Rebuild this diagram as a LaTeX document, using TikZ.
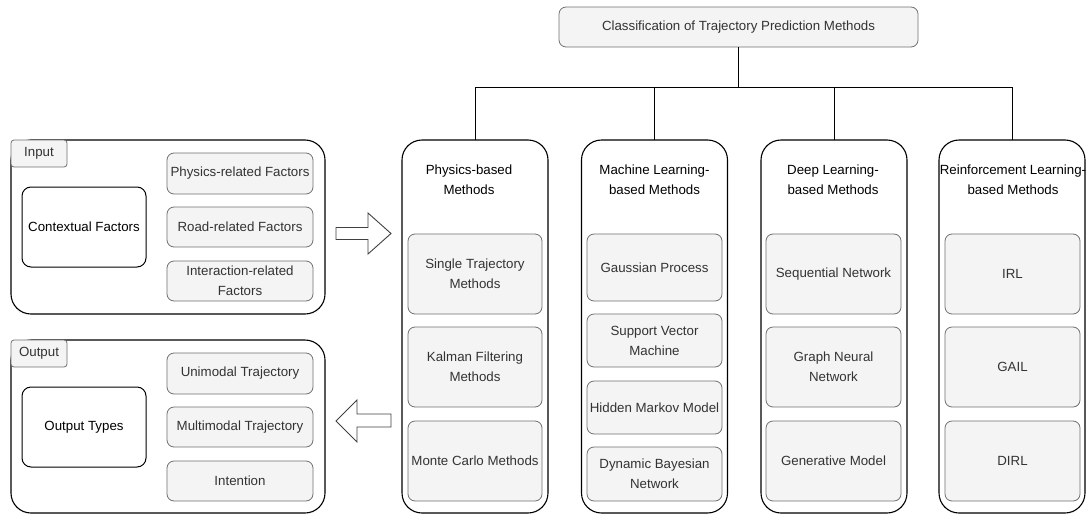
\documentclass[tikz,border=0pt]{standalone}
\usepackage{fontspec}
\setmainfont{Liberation Sans}
\definecolor{boxfill}{HTML}{F4F4F4}
\definecolor{boxline}{HTML}{707070}
\definecolor{boxtext}{HTML}{333333}
\tikzset{
  txt/.style={font=\fontsize{13.3}{20}\selectfont, align=center},
  panel/.style={draw=black, line width=1.1pt, rounded corners=20pt, fill=white,
    inner sep=0pt, outer sep=0pt},
  colbox/.style={panel},
  tabbox/.style={txt, draw=boxline, fill=boxfill, rounded corners=3pt, line width=0.8pt,
    inner sep=0pt, outer sep=0pt, minimum width=56pt, minimum height=27pt, text=boxtext},
  keybox/.style={txt, draw=black, line width=1pt, fill=white, rounded corners=9pt,
    inner sep=0pt, outer sep=0pt, minimum width=124pt, minimum height=80pt},
  gbox/.style={txt, draw=boxline, fill=boxfill, line width=0.8pt, rounded corners=7pt,
    inner sep=0pt, outer sep=0pt, text=boxtext},
  coltitle/.style={txt, inner sep=0pt},
  link/.style={draw=black, line width=0.9pt},
  bigarrow/.style={draw=black!75, fill=white, line width=0.9pt, line join=miter},
}
\begin{document}
\begin{tikzpicture}[x=1pt, y=-1pt]
\useasboundingbox (0,0) rectangle (1086,514);

% root of the classification tree
\node[gbox, minimum width=359pt, minimum height=40pt] (root) at (738.5,27)
  {Classification of Trajectory Prediction Methods};

% the four method columns
\node[colbox, minimum width=146pt, minimum height=373pt] (c1) at (475,326.5) {};
\node[colbox, minimum width=146pt, minimum height=373pt] (c2) at (654.5,326.5) {};
\node[colbox, minimum width=146pt, minimum height=373pt] (c3) at (834,326.5) {};
\node[colbox, minimum width=146pt, minimum height=373pt] (c4) at (1012,326.5) {};

\node[coltitle] (t1) at (469,180) {Physics-based\\Methods};
\node[coltitle] (t2) at (654.5,180) {Machine Learning-\\based Methods};
\node[coltitle] (t3) at (833,180) {Deep Learning-\\based Methods};
\node[coltitle] (t4) at (1013,180) {Reinforcement Learning-\\based Methods};

% tree connectors
\coordinate (hub) at (738.5,87);
\draw[link] (root.south) -- (hub);
\draw[link] (c1.north) -- (c1.north |- hub) -- (c4.north |- hub) -- (c4.north);
\draw[link] (c2.north) -- (c2.north |- hub);
\draw[link] (c3.north) -- (c3.north |- hub);

% physics-based methods
\node[gbox, minimum width=134pt, minimum height=80pt] (p1) at (475,274) {Single Trajectory\\Methods};
\node[gbox, minimum width=134pt, minimum height=80pt] (p2) at (475,367) {Kalman Filtering\\Methods};
\node[gbox, minimum width=134pt, minimum height=80pt] (p3) at (475,461) {Monte Carlo Methods};

% machine learning-based methods
\node[gbox, minimum width=135pt, minimum height=67pt] (m1) at (654.5,267.5) {Gaussian Process};
\node[gbox, minimum width=135pt, minimum height=53pt] (m2) at (654.5,340.5) {Support Vector\\Machine};
\node[gbox, minimum width=135pt, minimum height=53pt] (m3) at (654.5,407.5) {Hidden Markov Model};
\node[gbox, minimum width=135pt, minimum height=54pt] (m4) at (654.5,474) {Dynamic Bayesian\\Network};

% deep learning-based methods
\node[gbox, minimum width=135pt, minimum height=80pt] (d1) at (833.5,274) {Sequential Network};
\node[gbox, minimum width=135pt, minimum height=80pt] (d2) at (833.5,367) {Graph Neural\\Network};
\node[gbox, minimum width=135pt, minimum height=80pt] (d3) at (833.5,461) {Generative Model};

% reinforcement learning-based methods
\node[gbox, minimum width=135pt, minimum height=80pt] (r1) at (1012.5,274) {IRL};
\node[gbox, minimum width=135pt, minimum height=80pt] (r2) at (1012.5,367) {GAIL};
\node[gbox, minimum width=135pt, minimum height=80pt] (r3) at (1012.5,461) {DIRL};

% input panel
\node[panel, minimum width=314pt, minimum height=174pt] (inp) at (168,227) {};
\node[tabbox, anchor=north west] (intab) at (inp.north west) {Input};
\node[keybox] (ctx) at (84,227) {Contextual Factors};
\node[gbox, minimum width=146pt, minimum height=41pt] (f1) at (240,173.5) {Physics-related Factors};
\node[gbox, minimum width=146pt, minimum height=40pt] (f2) at (240,227) {Road-related Factors};
\node[gbox, minimum width=146pt, minimum height=40pt] (f3) at (240,281) {Interaction-related\\Factors};

% output panel
\node[panel, minimum width=314pt, minimum height=173pt] (outp) at (168,426.5) {};
\node[tabbox, anchor=north west] (outtab) at (outp.north west) {Output};
\node[keybox] (otypes) at (84,427) {Output Types};
\node[gbox, minimum width=146pt, minimum height=41pt] (o1) at (240,373.5) {Unimodal Trajectory};
\node[gbox, minimum width=146pt, minimum height=40pt] (o2) at (240,427) {Multimodal Trajectory};
\node[gbox, minimum width=146pt, minimum height=40pt] (o3) at (240,481) {Intention};

% block arrow: input panel to the method columns
\draw[bigarrow] (336,227.5) -- (368,227.5) -- (368,213) -- (391,233.5)
  -- (368,254) -- (368,239.5) -- (336,239.5) -- cycle;
% block arrow: method columns back to the output panel
\draw[bigarrow] (391,414) -- (357,414) -- (357,400) -- (336,421)
  -- (357,442) -- (357,427) -- (391,427) -- cycle;
\end{tikzpicture}
\end{document}
